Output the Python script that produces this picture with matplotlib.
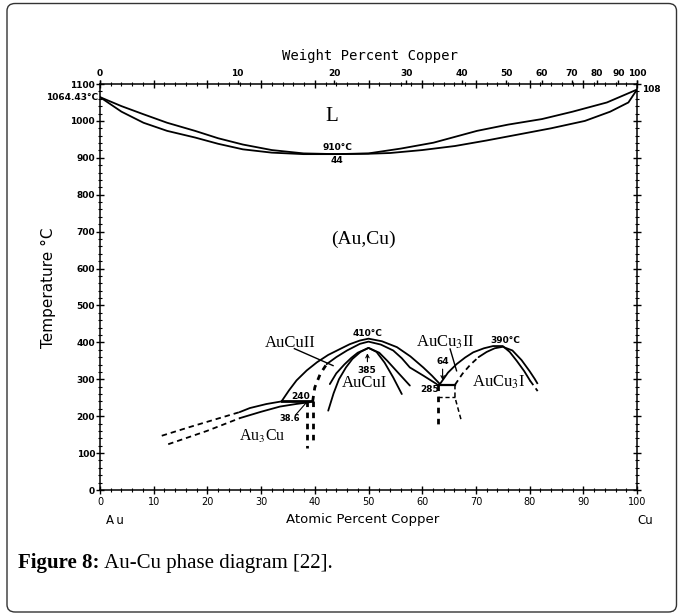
import numpy as np
import matplotlib
matplotlib.use("Agg")
import matplotlib.pyplot as plt
from matplotlib.patches import FancyBboxPatch

plt.rcParams['mathtext.fontset'] = 'stix'

# ---------------- data (atomic % Cu, temperature in C) ----------------
liq_x = [0, 4, 8.1, 12.5, 17.7, 22, 26.6, 32, 37.9, 44, 50, 56, 62.1, 70.2, 76, 82.3, 88, 94.4, 100]
liq_T = [1064.4, 1040, 1018, 995, 973, 953, 936, 921, 912, 910, 912, 925, 941, 973, 990, 1005, 1025, 1050, 1084.9]
sol_x = [0, 4, 8.1, 12.5, 17.7, 22, 26.6, 32, 37.9, 44, 50, 54, 60, 66.1, 72, 78.2, 84, 90.3, 95, 98.4, 100]
sol_T = [1064.4, 1025, 995, 973, 955, 938, 923, 914, 910, 910, 911, 913, 921, 932, 947, 964, 980, 1000, 1025, 1050, 1084.9]

# Au3Cu boundaries
au3cu_up_dash_x = [11.5, 16.8, 23.0, 26.0]
au3cu_up_dash_T = [147, 171, 198, 211]
au3cu_up_x = [26.0, 27.9, 31.0, 33.8]
au3cu_up_T = [211, 222, 233, 240]
au3cu_lo_dash_x = [12.7, 19.9, 26.1]
au3cu_lo_dash_T = [124, 160, 195]
au3cu_lo_x = [26.1, 30.0, 33.5, 36.5, 39.1]
au3cu_lo_T = [195, 212, 226, 233, 238]

# 240 C invariant and vertical dashed boundaries
inv240_x = [33.8, 39.4]
inv240_T = [240, 240]
v386_x = [38.6, 38.6]
v386_T = [240, 115]
v396_x = [39.6, 39.6]
v396_T = [240, 133]

# AuCuII dome (outer) and inner boundary
cuII_out_x = [33.8, 35.2, 36.6, 38.5, 40.4, 42.5, 44.7, 46.5, 48.4, 50, 52.5, 55.3, 57.8, 60.2, 61.8, 63.3]
cuII_out_T = [240, 270, 297, 324, 346, 366, 382, 395, 405, 410, 403, 387, 362, 332, 310, 287]
cuII_in_dash_x = [39.6, 40.0, 41.0, 42.2]
cuII_in_dash_T = [240, 278, 314, 341]
cuII_in_x = [42.2, 44.0, 46.0, 48.4, 50, 52.3, 54.6, 56.2, 57.7, 60.2, 62.7]
cuII_in_T = [341, 360, 378, 396, 402, 394, 378, 357, 332, 310, 287]

# AuCuI dome (two boundaries)
cuI_a_x = [42.5, 43.5, 44.5, 45.8, 47.0, 48.5, 50, 51.5, 53.0, 54.6, 56.2]
cuI_a_T = [215, 262, 300, 332, 355, 374, 385, 374, 345, 305, 260]
cuI_b_x = [42.8, 44.0, 45.5, 46.8, 48.0, 50, 52.0, 53.5, 55.5, 57.7]
cuI_b_T = [287, 316, 340, 358, 372, 385, 372, 350, 318, 283]

# 285 C invariant and dashed lines below it
inv285_x = [63.0, 66.1]
inv285_T = [285, 285]
v630_x = [63.0, 63.0]
v630_T = [285, 179]
h251_x = [63.0, 66.1]
h251_T = [251, 251]
v661_x = [66.1, 66.1, 67.3]
v661_T = [285, 251, 187]

# AuCu3 dome (outer) and inner boundary
cu3_out_x = [63.3, 64.8, 66.4, 68.0, 69.5, 71.5, 73.2, 75.0, 76.3, 77.6, 79.0, 80.1]
cu3_out_T = [287, 318, 341, 359, 373, 384, 390, 390, 374, 350, 322, 296]
cu3_out_dash_x = [80.1, 81.5]
cu3_out_dash_T = [296, 268]
cu3_in_dash_x = [66.1, 67.5, 69.0, 70.5]
cu3_in_dash_T = [285, 315, 340, 360]
cu3_in_x = [70.5, 72.0, 73.5, 75.0, 76.8, 78.5, 80.0, 81.0]
cu3_in_T = [360, 374, 384, 388, 378, 352, 322, 300]
cu3_in_dash2_x = [81.0, 81.8]
cu3_in_dash2_T = [300, 280]

temp_ticks = list(range(0, 1101, 100))
at_ticks = list(range(0, 101, 10))
wt_ticks = list(range(0, 101, 10))

# ---------------- figure ----------------
W, H = 678, 616
fig = plt.figure(figsize=(W / 100, H / 100), dpi=100)
fig.patches.append(FancyBboxPatch((7 / W, 4 / H), 669.5 / W, 608.5 / H,
                                  boxstyle="round,pad=0,rounding_size=0.012",
                                  transform=fig.transFigure, fill=False,
                                  ec='#333333', lw=1.0))

ax = fig.add_axes([100 / W, 1 - 490 / H, 537 / W, 406 / H])
ax.set_xlim(0, 100)
ax.set_ylim(0, 1100)

lw = 1.3
kw = dict(color='black', lw=lw, solid_capstyle='round')
dkw = dict(color='black', lw=lw, ls=(0, (3, 2.2)))
ddkw = dict(color='black', lw=2.0, ls=(0, (2, 2)))

ax.plot(liq_x, liq_T, **kw)
ax.plot(sol_x, sol_T, **kw)

ax.plot(au3cu_up_dash_x, au3cu_up_dash_T, **dkw)
ax.plot(au3cu_up_x, au3cu_up_T, **kw)
ax.plot(au3cu_lo_dash_x, au3cu_lo_dash_T, **dkw)
ax.plot(au3cu_lo_x, au3cu_lo_T, **kw)
ax.plot(inv240_x, inv240_T, color='black', lw=2.0)
ax.plot(v386_x, v386_T, **ddkw)
ax.plot(v396_x, v396_T, **ddkw)

ax.plot(cuII_out_x, cuII_out_T, **kw)
ax.plot(cuII_in_dash_x, cuII_in_dash_T, **ddkw)
ax.plot(cuII_in_x, cuII_in_T, **kw)
ax.plot(cuI_a_x, cuI_a_T, **kw)
ax.plot(cuI_b_x, cuI_b_T, **kw)

ax.plot(inv285_x, inv285_T, color='black', lw=1.6)
ax.plot(v630_x, v630_T, **ddkw)
ax.plot(h251_x, h251_T, color='black', lw=1.0, ls=(0, (3, 2)))
ax.plot(v661_x, v661_T, color='black', lw=1.1, ls=(0, (3, 2)))

ax.plot(cu3_out_x, cu3_out_T, **kw)
ax.plot(cu3_out_dash_x, cu3_out_dash_T, **dkw)
ax.plot(cu3_in_dash_x, cu3_in_dash_T, **dkw)
ax.plot(cu3_in_x, cu3_in_T, **kw)
ax.plot(cu3_in_dash2_x, cu3_in_dash2_T, **dkw)

# ---------------- axes styling ----------------
for s in ax.spines.values():
    s.set_linewidth(1.1)
ax.set_yticks(temp_ticks)
ax.set_yticks(list(range(0, 1101, 20)), minor=True)
ax.set_xticks(at_ticks)
ax.set_xticks(list(range(0, 101, 2)), minor=True)
ax.tick_params(axis='y', which='major', direction='inout', length=6, width=1,
               labelsize=6.5, pad=0.5, right=True)
ax.tick_params(axis='y', which='minor', direction='inout', length=2.5, width=0.8, right=True)
ax.tick_params(axis='x', which='major', direction='inout', length=6, width=1,
               labelsize=7, pad=2, top=True)
ax.tick_params(axis='x', which='minor', direction='inout', length=2.5, width=0.8, top=True)
for lab in ax.get_yticklabels():
    lab.set_fontweight('bold')
for lab in ax.get_xticklabels():
    lab.set_family('DejaVu Sans')

M_CU, M_AU = 63.546, 196.967


def at2wt(a):
    a = np.asarray(a, dtype=float)
    a = np.clip(a, 0, 100)
    num = a * M_CU
    den = a * M_CU + (100 - a) * M_AU
    return 100 * num / np.where(den == 0, 1, den)


def wt2at(w):
    w = np.asarray(w, dtype=float)
    w = np.clip(w, 0, 100)
    num = w / M_CU
    den = w / M_CU + (100 - w) / M_AU
    return 100 * num / np.where(den == 0, 1, den)


sec = ax.secondary_xaxis('top', functions=(at2wt, wt2at))
sec.set_xticks(wt_ticks)
sec.tick_params(direction='out', length=3, width=1, labelsize=6.5, pad=1.5)
for lab in sec.get_xticklabels():
    lab.set_fontweight('bold')
sec.spines['top'].set_visible(False)

# ---------------- axis labels ----------------
ax.text((370 - 100) / 537, 1.0 + 28 / 406, 'Weight Percent Copper', transform=ax.transAxes,
        ha='center', va='center', fontsize=10, family='DejaVu Sans Mono')
ax.text(-52 / 537, (490 - 288) / 406, 'Temperature °C', transform=ax.transAxes,
        ha='center', va='center', rotation=90, fontsize=11, family='DejaVu Sans')
ax.text((363 - 100) / 537, -30 / 406, 'Atomic Percent Copper',
        transform=ax.transAxes, ha='center', va='center', fontsize=9.5, family='DejaVu Sans')
ax.text(6 / 537, -30 / 406, 'A\u2009u', transform=ax.transAxes, ha='left', va='center',
        fontsize=8.5, family='DejaVu Sans')
ax.text(1.0, -30 / 406, 'Cu', transform=ax.transAxes, ha='left', va='center',
        fontsize=8.5, family='DejaVu Sans')

ax.text(-0.003, 1064.4, '1064.43°C', transform=ax.get_yaxis_transform(),
        ha='right', va='center', fontsize=6.5, fontweight='bold')
ax.text(1.01, 1084.9, '108', transform=ax.get_yaxis_transform(),
        ha='left', va='center', fontsize=6.5, fontweight='bold')

# ---------------- phase labels ----------------
serif = 'Liberation Serif'
ax.text(43.1, 1011, 'L', ha='center', va='center', fontsize=15, family=serif)
ax.text(44.2, 928, '910°C', ha='center', va='center', fontsize=6.5, fontweight='bold')
ax.text(44.2, 893, '44', ha='center', va='center', fontsize=6.5, fontweight='bold')
ax.text(49, 680, '(Au,Cu)', ha='center', va='center', fontsize=14, family=serif)

ax.text(35.5, 398, 'AuCuII', ha='center', va='center', fontsize=12, family=serif)
ax.plot([36.2, 43.4], [383, 337], color='black', lw=1.0)
ax.text(30.3, 145, 'Au$_3$Cu', ha='center', va='center', fontsize=11.5, family=serif)
ax.text(37.3, 253, '240', ha='center', va='center', fontsize=6.5, fontweight='bold')
ax.text(35.4, 193, '38.6', ha='center', va='center', fontsize=6, fontweight='bold')
ax.plot([36.4, 38.5], [203, 238], color='black', lw=0.8)

ax.text(49.8, 424, '410°C', ha='center', va='center', fontsize=6.5, fontweight='bold')
ax.text(49.7, 325, '385', ha='center', va='center', fontsize=6.5, fontweight='bold')
ax.annotate('', xy=(49.8, 378), xytext=(49.8, 340),
            arrowprops=dict(arrowstyle='->', lw=0.8, color='black', mutation_scale=6))
ax.text(49.2, 291, 'AuCuI', ha='center', va='center', fontsize=12, family=serif)

ax.text(64.3, 400, 'AuCu$_3$II', ha='center', va='center', fontsize=12, family=serif)
ax.plot([65.2, 66.4], [382, 323], color='black', lw=1.0)
ax.text(63.8, 347, '64', ha='center', va='center', fontsize=6.5, fontweight='bold')
ax.annotate('', xy=(63.8, 290), xytext=(63.8, 335),
            arrowprops=dict(arrowstyle='->', lw=0.8, color='black', mutation_scale=6))
ax.text(61.3, 273, '285', ha='center', va='center', fontsize=6.5, fontweight='bold')
ax.text(74.2, 291, 'AuCu$_3$I', ha='center', va='center', fontsize=12, family=serif)
ax.text(75.5, 405, '390°C', ha='center', va='center', fontsize=6.5, fontweight='bold')

# ---------------- caption ----------------
t1 = fig.text(18 / W, 1 - 568 / H, 'Figure 8:', fontsize=15, family=serif,
              fontweight='bold', ha='left', va='baseline')
ax.annotate(' Au-Cu phase diagram [22].', xy=(1, 0), xycoords=t1,
            xytext=(0, 0), textcoords='offset points', ha='left', va='bottom',
            fontsize=15, family=serif, annotation_clip=False)

fig.savefig('out.png', dpi=100)
